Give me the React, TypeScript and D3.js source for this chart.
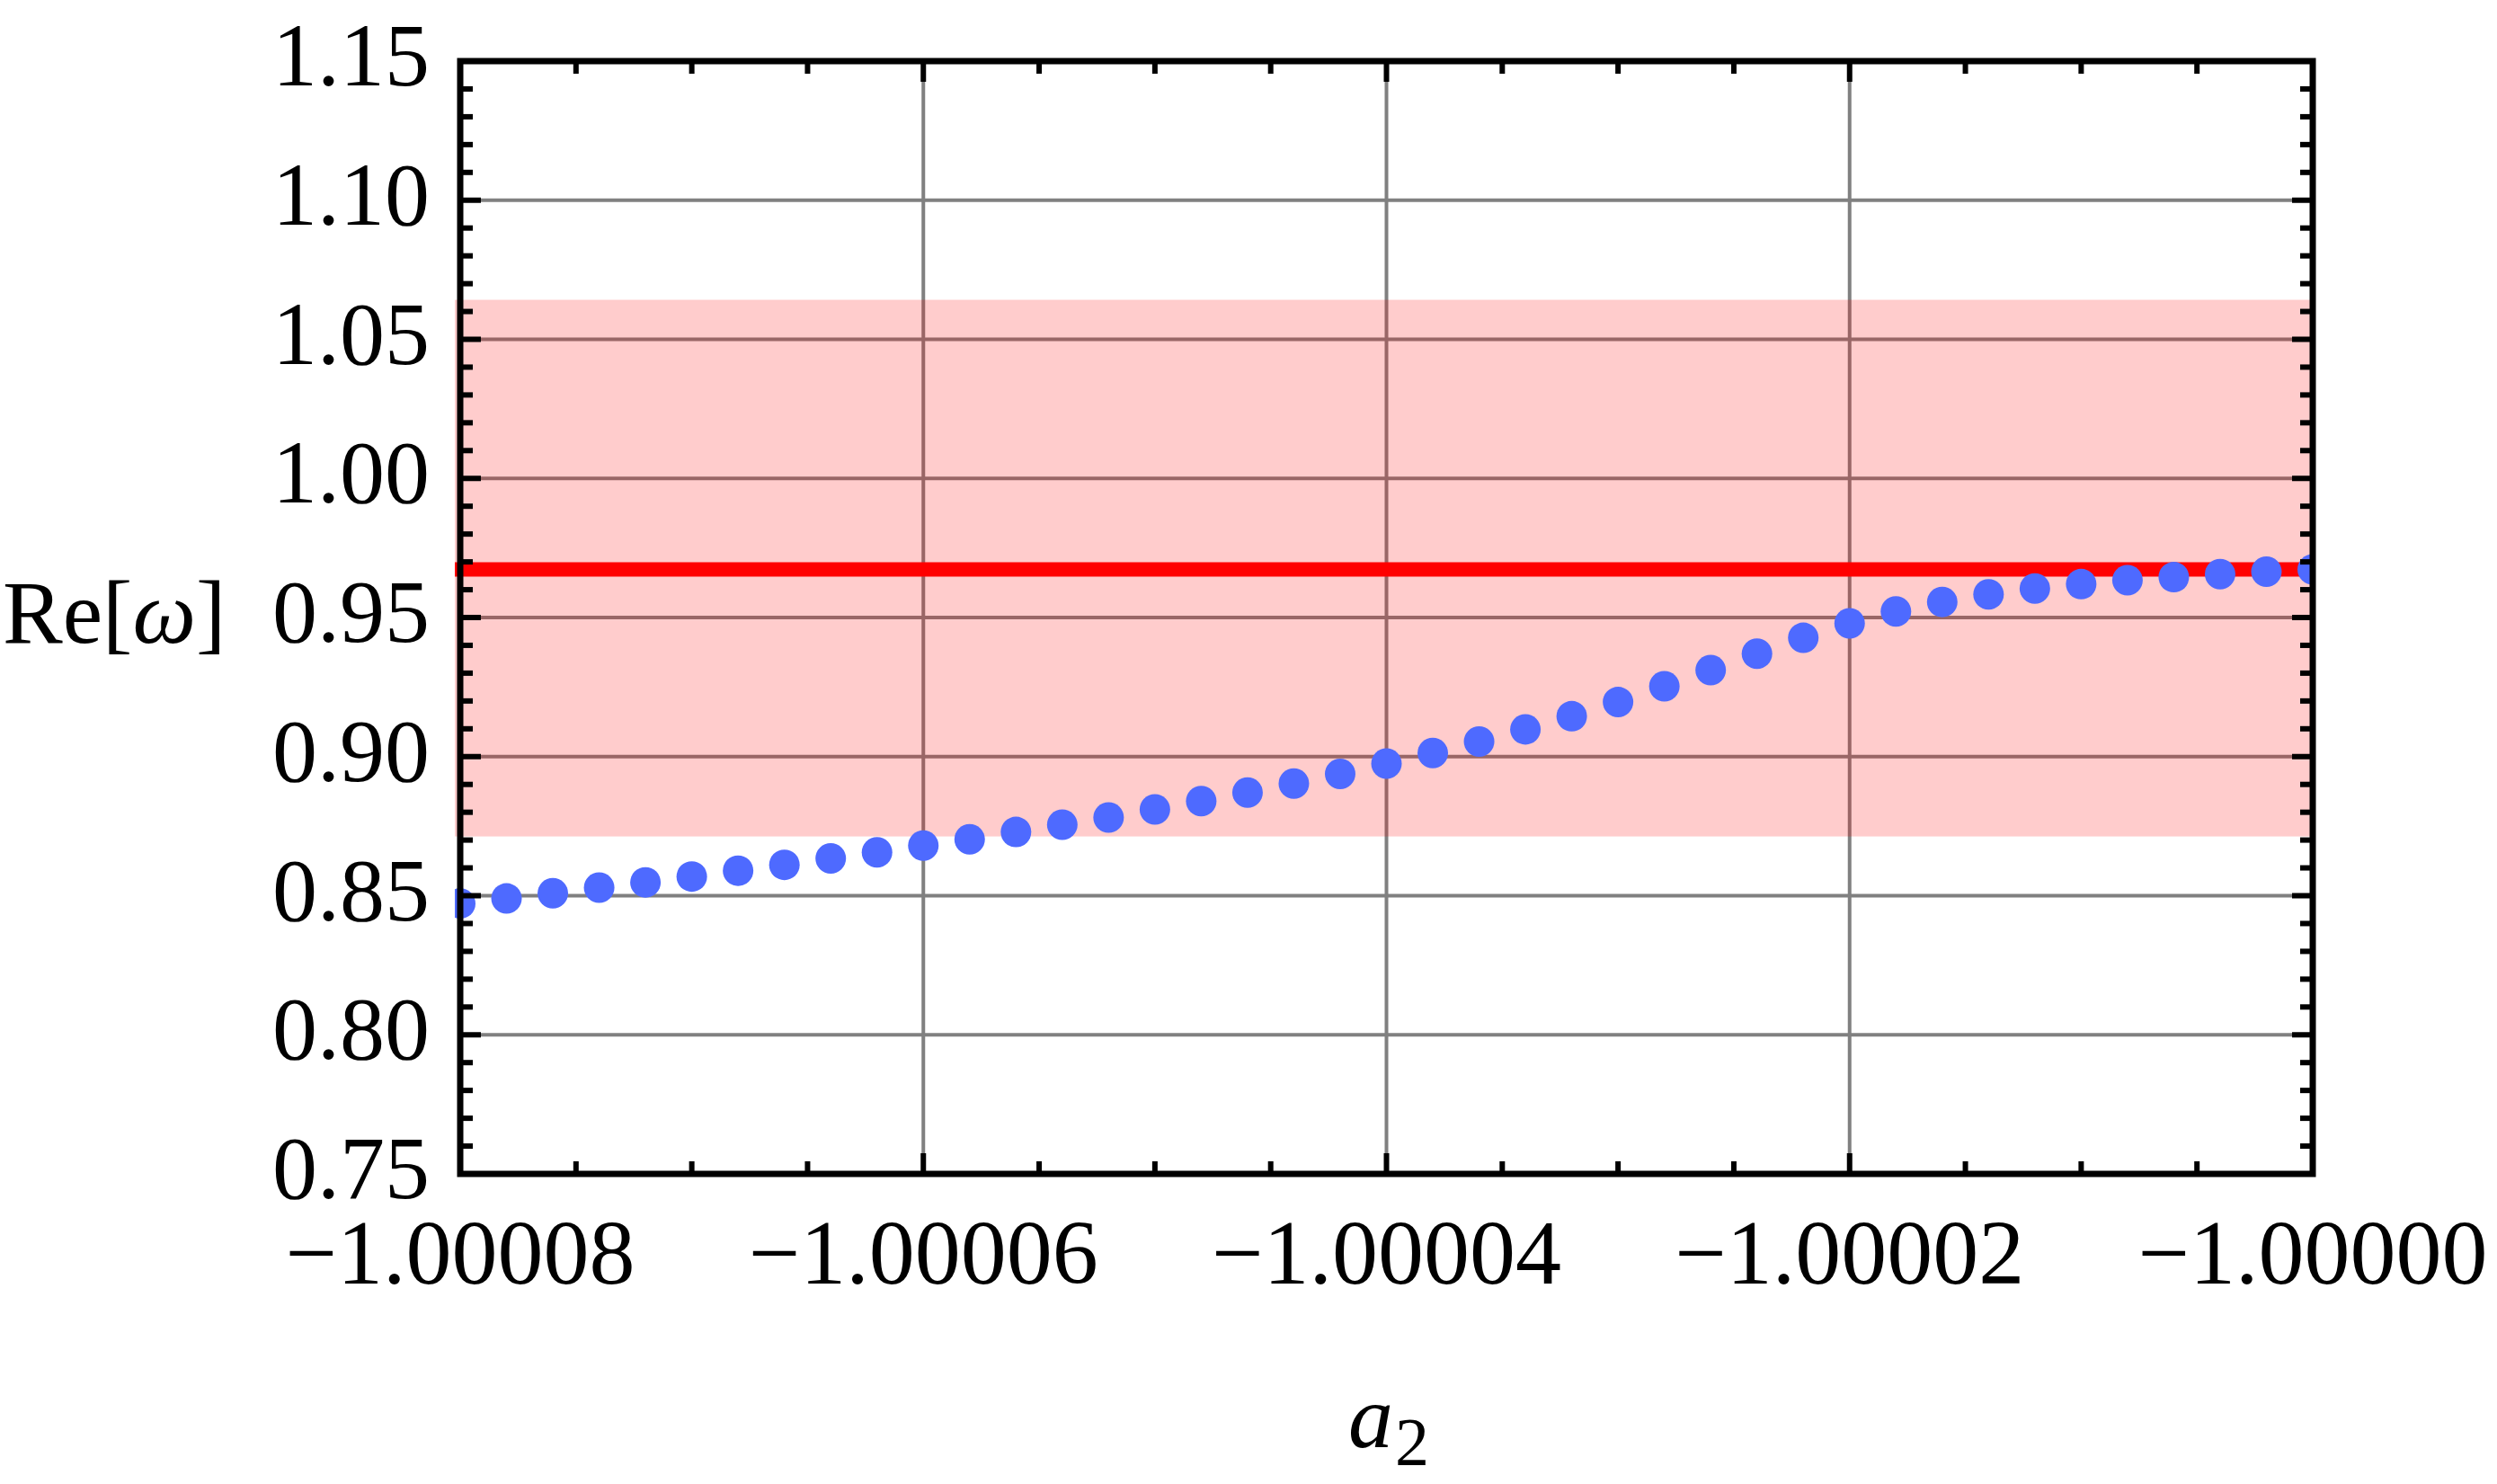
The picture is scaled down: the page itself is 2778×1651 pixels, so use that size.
import { useEffect, useRef } from "react"
import * as d3 from "d3"

// a2 sample points along the x axis
const a2Values = [
  -1.00008, -1.000078, -1.000076, -1.000074, -1.000072, -1.00007, -1.000068,
  -1.000066, -1.000064, -1.000062, -1.00006, -1.000058, -1.000056, -1.000054,
  -1.000052, -1.00005, -1.000048, -1.000046, -1.000044, -1.000042, -1.00004,
  -1.000038, -1.000036, -1.000034, -1.000032, -1.00003, -1.000028, -1.000026,
  -1.000024, -1.000022, -1.00002, -1.000018, -1.000016, -1.000014, -1.000012,
  -1.00001, -1.000008, -1.000006, -1.000004, -1.000002, -1.0,
]

// Re[omega]
const reOmega = [
  0.8472, 0.849, 0.8509, 0.8529, 0.8548, 0.8569, 0.859, 0.8611, 0.8634, 0.8656,
  0.868, 0.8703, 0.8729, 0.8755, 0.8781, 0.881, 0.884, 0.8871, 0.8903, 0.8938,
  0.8975, 0.9013, 0.9054, 0.9098, 0.9145, 0.9196, 0.9253, 0.9311, 0.937, 0.9427,
  0.9479, 0.9522, 0.9556, 0.9583, 0.9604, 0.962, 0.9634, 0.9645, 0.9656, 0.9665,
  0.9673,
]

const referenceValue = 0.9673
const bandRange = [0.8713, 1.0642]

const xTicks = [-1.00008, -1.00006, -1.00004, -1.00002, -1.0]
const yTicks = [0.75, 0.8, 0.85, 0.9, 0.95, 1.0, 1.05, 1.1, 1.15]

const W = 2778
const H = 1651
const FONT = "'Liberation Serif', 'Times New Roman', serif"

export default function App() {
  const svgRef = useRef<SVGSVGElement>(null)

  useEffect(() => {
    document.body.style.margin = "0"
    document.body.style.overflow = "hidden"
    if (!svgRef.current) return
    const svg = d3.select(svgRef.current)
    svg.selectAll("*").remove()

    const left = 512
    const right = 2573
    const top = 68
    const bottom = 1306

    const x = d3.scaleLinear().domain([-1.00008, -1.0]).range([left, right])
    const y = d3.scaleLinear().domain([0.75, 1.15]).range([bottom, top])

    // clip (plot range padding on the left)
    svg
      .append("defs")
      .append("clipPath")
      .attr("id", "plot-clip")
      .append("rect")
      .attr("x", left - 6)
      .attr("y", top)
      .attr("width", right - left + 6)
      .attr("height", bottom - top)

    // grid lines
    const grid = svg.append("g")
    grid
      .selectAll("line.v")
      .data(xTicks.slice(1, -1))
      .enter()
      .append("line")
      .attr("x1", (d) => x(d))
      .attr("x2", (d) => x(d))
      .attr("y1", top)
      .attr("y2", bottom)
      .attr("stroke", "#808080")
      .attr("stroke-width", 4)
    grid
      .selectAll("line.h")
      .data(yTicks.slice(1, -1))
      .enter()
      .append("line")
      .attr("x1", left)
      .attr("x2", right)
      .attr("y1", (d) => y(d))
      .attr("y2", (d) => y(d))
      .attr("stroke", "#808080")
      .attr("stroke-width", 4)

    const plot = svg.append("g").attr("clip-path", "url(#plot-clip)")

    // shaded band
    plot
      .append("rect")
      .attr("x", left - 6)
      .attr("width", right - left + 6)
      .attr("y", y(bandRange[1]))
      .attr("height", y(bandRange[0]) - y(bandRange[1]))
      .attr("fill", "#ff0000")
      .attr("fill-opacity", 0.2)

    // reference line
    plot
      .append("line")
      .attr("x1", left - 6)
      .attr("x2", right)
      .attr("y1", y(referenceValue))
      .attr("y2", y(referenceValue))
      .attr("stroke", "#ff0000")
      .attr("stroke-width", 16)

    // data points
    plot
      .selectAll("circle")
      .data(a2Values.map((a, i) => [a, reOmega[i]]))
      .enter()
      .append("circle")
      .attr("cx", (d) => x(d[0]))
      .attr("cy", (d) => y(d[1]))
      .attr("r", 17)
      .attr("fill", "#4e6aff")

    // ticks (inside, all four sides)
    const ticks = svg.append("g").attr("stroke", "#000").attr("stroke-width", 6)
    const xMinor = d3.range(0, 17).map((i) => -1.00008 + i * 0.000005)
    const yMinor = d3.range(0, 41).map((i) => 0.75 + i * 0.01)
    const isMajorX = (v: number) => xTicks.some((t) => Math.abs(t - v) < 1e-9)
    const isMajorY = (v: number) => yTicks.some((t) => Math.abs(t - v) < 1e-6)

    xMinor.forEach((v) => {
      const len = isMajorX(v) ? 23 : 14
      ticks.append("line").attr("x1", x(v)).attr("x2", x(v)).attr("y1", bottom).attr("y2", bottom - len)
      ticks.append("line").attr("x1", x(v)).attr("x2", x(v)).attr("y1", top).attr("y2", top + len)
    })
    yMinor.forEach((v) => {
      const len = isMajorY(v) ? 23 : 14
      ticks.append("line").attr("x1", left).attr("x2", left + len).attr("y1", y(v)).attr("y2", y(v))
      ticks.append("line").attr("x1", right).attr("x2", right - len).attr("y1", y(v)).attr("y2", y(v))
    })

    // frame
    svg
      .append("rect")
      .attr("x", left)
      .attr("y", top)
      .attr("width", right - left)
      .attr("height", bottom - top)
      .attr("fill", "none")
      .attr("stroke", "#000")
      .attr("stroke-width", 7)

    // tick labels
    const fmtX = d3.format(".5f")
    const fmtY = d3.format(".2f")
    svg
      .selectAll("text.xt")
      .data(xTicks)
      .enter()
      .append("text")
      .attr("x", (d) => x(d))
      .attr("y", 1428)
      .attr("text-anchor", "middle")
      .attr("font-family", FONT)
      .attr("font-size", 102)
      .attr("fill", "#000")
      .text((d) => fmtX(d))
    svg
      .selectAll("text.yt")
      .data(yTicks)
      .enter()
      .append("text")
      .attr("x", 478)
      .attr("y", (d) => y(d) + 27)
      .attr("text-anchor", "end")
      .attr("font-family", FONT)
      .attr("font-size", 100)
      .attr("fill", "#000")
      .text((d) => fmtY(d))

    // axis labels
    const yLabel = svg
      .append("text")
      .attr("x", 3)
      .attr("y", 715)
      .attr("font-family", FONT)
      .attr("font-size", 100)
      .attr("fill", "#000")
    yLabel.append("tspan").text("Re[")
    yLabel.append("tspan").attr("font-style", "italic").text("ω")
    yLabel.append("tspan").text("]")

    const xLabel = svg
      .append("text")
      .attr("x", 1500)
      .attr("y", 1610)
      .attr("font-family", FONT)
      .attr("font-size", 100)
      .attr("fill", "#000")
    xLabel.append("tspan").attr("font-style", "italic").text("a")
    xLabel.append("tspan").attr("font-size", 76).attr("dy", 20).attr("dx", 2).text("2")
  }, [])

  return <svg ref={svgRef} width={W} height={H} style={{ display: "block", background: "#fff" }} />
}
